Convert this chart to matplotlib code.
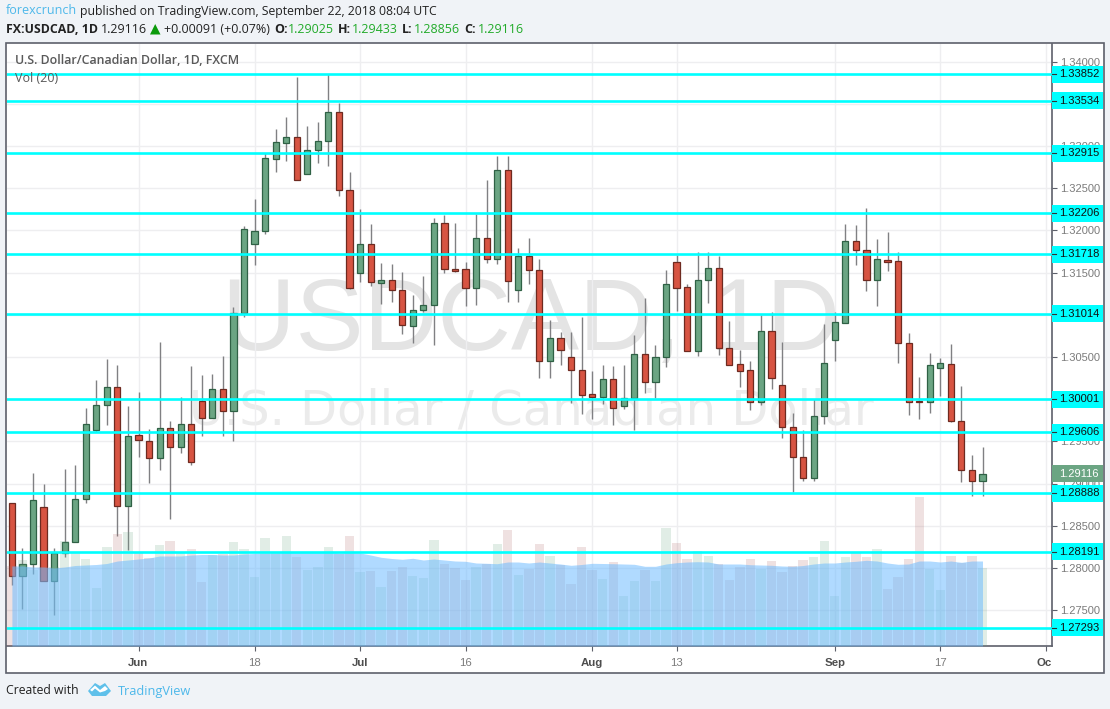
import matplotlib
matplotlib.use("Agg")
import matplotlib.pyplot as plt
import numpy as np
from matplotlib.patches import Rectangle, Polygon
from matplotlib.transforms import blended_transform_factory, Bbox

W, H = 1110, 709

opens = [1.28774,1.27905,1.28051,1.28726,1.27846,1.28178,1.28312,1.28818,1.29639,1.29935,1.30148,1.28738,
 1.29572,1.29508,1.29303,1.29662,1.29437,1.2971,1.29982,1.29781,1.30124,1.29864,1.31025,1.31835,1.31989,1.3285,1.33039,1.33103,
 1.32665,1.32956,1.33056,1.33399,1.32475,1.31499,1.31835,1.3138,1.31409,1.31297,1.30871,1.3106,1.31113,1.32084,1.31539,1.31539,
 1.31321,1.31906,1.31665,1.32712,1.31297,1.31693,1.31534,1.30456,1.30722,1.30504,1.3035,1.30058,1.3003,1.30236,1.29919,1.30018,
 1.30532,1.30207,1.30504,1.31622,1.31326,1.30575,1.31409,1.31551,1.30603,1.30413,1.30342,1.2997,1.30804,1.30172,1.29674,1.29319,
 1.29066,1.29805,1.30701,1.30903,1.31871,1.31771,1.31409,1.31646,1.31634,1.30669,1.29975,1.2997,1.3037,1.30421,1.29745,1.29165,1.29025]
closes = [1.27909,1.28047,1.28809,1.27846,1.28181,1.28312,1.28821,1.29703,1.29935,1.30148,1.28738,1.29568,
 1.29517,1.29303,1.29662,1.29437,1.2971,1.29259,1.29781,1.30124,1.29864,1.31025,1.32013,1.31993,1.32854,1.33044,1.33103,1.32594,
 1.32956,1.33056,1.33399,1.32475,1.31321,1.31835,1.31385,1.31409,1.31297,1.30883,1.3106,1.31113,1.32084,1.31539,1.31519,1.31321,
 1.31906,1.31665,1.32712,1.31404,1.31693,1.31534,1.30456,1.30722,1.30586,1.3035,1.30053,1.3003,1.30236,1.29899,1.30018,1.30532,
 1.30207,1.30504,1.31361,1.31321,1.30575,1.31409,1.31551,1.3061,1.30409,1.30334,1.2997,1.30804,1.30251,1.29674,1.29315,1.29066,
 1.29805,1.30425,1.30911,1.31871,1.31771,1.31409,1.31658,1.31629,1.30669,1.2997,1.29963,1.30402,1.30425,1.29745,1.29165,1.29034,1.29116]
highs = [1.28774,1.28237,1.29126,1.29,1.28237,1.29173,1.2922,1.29896,1.30227,1.30476,1.30405,1.29919,
 1.30085,1.29647,1.30678,1.29742,1.30026,1.30393,1.30287,1.30299,1.30515,1.31092,1.32052,1.32372,1.32917,1.33201,1.33344,1.33821,
 1.33237,1.33284,1.33853,1.3351,1.32692,1.32254,1.32076,1.31614,1.31602,1.31507,1.31235,1.3146,1.32147,1.32182,1.32088,1.31626,
 1.32194,1.32597,1.32885,1.32885,1.31791,1.3191,1.31661,1.30938,1.30796,1.30796,1.30974,1.30334,1.30405,1.30393,1.30405,1.30761,
 1.31199,1.30642,1.31531,1.31709,1.31365,1.31744,1.31744,1.31697,1.30927,1.30583,1.30453,1.30998,1.31033,1.30678,1.29836,1.29635,
 1.30002,1.30891,1.31033,1.32076,1.32064,1.32265,1.31898,1.31981,1.31744,1.30784,1.30263,1.30547,1.30488,1.30654,1.30156,1.29339,1.29433]
lows = [1.27799,1.27514,1.27929,1.27846,1.27443,1.28134,1.28312,1.2877,1.29615,1.29694,1.28383,1.28213,
 1.29315,1.29007,1.29161,1.28581,1.29363,1.2922,1.29564,1.29781,1.29564,1.29508,1.30978,1.3159,1.31957,1.32695,1.32826,1.32594,
 1.32665,1.32802,1.32767,1.32408,1.31306,1.31392,1.31341,1.31128,1.31152,1.30773,1.30666,1.31033,1.30642,1.31495,1.31507,1.31104,
 1.31116,1.31614,1.31602,1.31152,1.31152,1.31365,1.30251,1.30251,1.30405,1.29955,1.29825,1.29765,1.29943,1.29694,1.29884,1.29635,
 1.30073,1.30014,1.30382,1.31045,1.30575,1.30512,1.3114,1.30524,1.30409,1.30145,1.29872,1.29931,1.30121,1.2954,1.28904,1.29034,
 1.29034,1.29706,1.30453,1.30903,1.3159,1.31282,1.31104,1.31519,1.30429,1.29813,1.29765,1.29836,1.30038,1.2973,1.29019,1.28853,1.28856]
volumes = [80,86,76,79,79,105,94,87,58,99,112,114,
 93,88,101,105,93,97,64,91,92,104,97,69,108,93,110,89,76,79,99,92,110,74,75,
 59,75,79,70,68,106,82,78,66,79,82,102,116,71,77,102,90,81,62,99,76,67,84,50,65,76,65,118,103,87,95,90,82,66,79,
 87,77,85,74,80,86,89,105,50,89,94,89,97,57,69,87,149,77,56,90,83,90,78]
vol_ma = [80,80,79,79,78,79,80.5,81,81.5,82.5,85,86,
 87,88,90,90,90,91,91.5,91.5,91,91,92,92.5,93,93,93.5,93.5,94,94,94.5,93,93.5,93,91,
 88.7,87.5,86.7,87.7,86,87,86,85,84.7,83,82.7,82.3,84,84,83,84,83,82,80.7,81.5,82.7,82.5,82.3,82,81.7,79.7,79.7,82,83.3,84,84.3,84,82,82,82,
 81.3,81,80.7,80,79.7,80.5,82,83,83,84,84.7,85.7,85,83,81.7,82,85,85,84,85,83.7,85,85]
first_index = -12

levels = [1.33852,1.33534,1.32915,1.32206,1.31718,1.31014,1.30001,1.29606,1.28888,1.28191,1.27293]
price_ticks = [1.34,1.335,1.33,1.325,1.32,1.315,1.31,1.305,1.30,1.295,1.29,1.285,1.28,1.275]
covered_ticks = [1.335,1.31,1.30]
date_pos = [0,11,21,31,43,51,66,76,86]
date_labels = ["Jun","18","Jul","16","Aug","13","Sep","17","Oct"]
date_bold = [True,False,True,False,True,False,True,False,True]
last_price = 1.29116

UP, DOWN, UP_E, DOWN_E, WICK = "#6ba583","#d75442","#2f6145","#6e2a20","#808083"
CYAN = "#00ffff"
GREY = "#7b7b7b"
BG = "#f0f3f7"
BORDER = "#5d606b"

plt.rcParams['font.family'] = ['Open Sans','DejaVu Sans']
fig = plt.figure(figsize=(W/100, H/100), dpi=100, facecolor=BG)

def fx(x): return x/W
def fy(y): return 1-y/H

fig.add_artist(Rectangle((fx(5.5), fy(672.5)), 1098/W, 629.5/H, transform=fig.transFigure,
                         fc="white", ec=BORDER, lw=1.2, zorder=-5))

L,R,T,B = 7,1052,43.5,646
pos = [fx(L), fy(B), (R-L)/W, (B-T)/H]
xlim = ((L-138.5)/10.55, (R-138.5)/10.55)
ylim = (1.28-(B-568)/8440, 1.28+(568-T)/8440)

ax = fig.add_axes(pos, zorder=1)
ax.set_facecolor("none")
ax.set_xlim(xlim); ax.set_ylim(ylim)
ax.set_axisbelow(True)
ax.grid(True, color="#eeeef0", lw=1.0)
for s in ("top","left"): ax.spines[s].set_visible(False)
for s in ("right","bottom"):
    ax.spines[s].set_color(BORDER); ax.spines[s].set_linewidth(1.2)

ax.yaxis.tick_right()
ax.set_yticks(price_ticks)
ax.set_yticklabels(["" if p in covered_ticks else "%.5f"%p for p in price_ticks],
                   family="Liberation Sans", fontsize=8, color=GREY)
ax.tick_params(axis="y", length=3.5, width=0.8, color=BORDER, pad=2)
ax.set_xticks(date_pos)
ax.set_xticklabels(date_labels, family="Liberation Sans", fontsize=8.2, color=GREY)
ax.tick_params(axis="x", length=3.5, width=0.8, color=BORDER, pad=5)
clip = Bbox([[0,0],[R-1,H]])
for lab,b in zip(ax.get_xticklabels(), date_bold):
    if b:
        lab.set_color("#4e4e4e"); lab.set_fontweight("bold")
    lab.set_clip_box(clip); lab.set_clip_on(True)

n = len(opens)
idx = np.arange(first_index, first_index+n)
op, cl, hi, lo = map(np.array,(opens,closes,highs,lows))
up = cl >= op

# watermark
fig.text(fx(531),fy(324),"USDCAD, 1D",family="Liberation Sans",fontsize=102*0.72,color="#e4e4e4",
         ha="center",va="center",zorder=0)
fig.text(fx(531),fy(411),"U.S. Dollar / Canadian Dollar",family="DejaVu Sans",fontsize=48*0.72,color="#ebebeb",
         ha="center",va="center",zorder=0)

ax.vlines(idx, lo, hi, color=WICK, lw=1.0, zorder=3)
ax.bar(idx, np.maximum(np.abs(cl-op),0.00002), bottom=np.minimum(op,cl), width=0.58,
       color=[UP if u else DOWN for u in up], edgecolor=[UP_E if u else DOWN_E for u in up],
       linewidth=0.9, zorder=4)

# volume pane
axv = fig.add_axes(pos, zorder=2)
axv.set_facecolor("none"); axv.axis("off")
axv.set_xlim(xlim); axv.set_ylim(0, B-T)
axv.bar(idx, volumes, width=0.89, color=["#6ba583" if u else "#b06a6a" for u in up], alpha=0.2, linewidth=0)
axv.fill_between(idx, 0, vol_ma, color="#6fbcff", alpha=0.55, linewidth=0)

# levels
axl = fig.add_axes(pos, zorder=3)
axl.set_facecolor("none"); axl.axis("off")
axl.set_xlim(xlim); axl.set_ylim(ylim)
bt = blended_transform_factory(axl.transAxes, axl.transData)
bw = 51/(R-L)
bh = 17/8440
axl.add_patch(Rectangle((1, last_price-bh/2), bw, bh, transform=bt, fc=UP, ec="none", clip_on=False, zorder=5))
axl.text(1+7/(R-L), last_price, "%.5f"%last_price, transform=bt, family="Liberation Sans", fontsize=8,
         color="white", va="center", ha="left", clip_on=False, zorder=6)
for lv in levels:
    axl.axhline(lv, color=CYAN, lw=1.9, zorder=4)
    axl.add_patch(Rectangle((1, lv-bh/2), bw, bh, transform=bt, fc=CYAN, ec="none", clip_on=False, zorder=7))
    axl.plot([1, 1+4/(R-L)], [lv,lv], transform=bt, color="#333333", lw=0.8, clip_on=False, zorder=8)
    axl.text(1+7/(R-L), lv, "%.5f"%lv, transform=bt, family="Liberation Sans", fontsize=8,
             color="#111111", va="center", ha="left", clip_on=False, zorder=8)

# pane legends
fig.text(fx(15),fy(60.5),"U.S. Dollar/Canadian Dollar, 1D, FXCM",fontsize=8.95,color="#595959",fontweight="semibold",va="center",zorder=5)
fig.text(fx(15),fy(78),"Vol (20)",fontsize=9.0,color="#595959",va="center",zorder=5)

# header
BLUE = "#4db8ea"
DARK = "#222222"
GRN = "#22ab2a"
def t(x,y,s,c=DARK,w="normal",fs=9.0,**k):
    fig.text(fx(x),fy(y),s,color=c,fontweight=w,fontsize=fs,va="center",zorder=6,**k)
t(6,11,"forexcrunch",BLUE,fs=9.0)
t(80,11,"published on TradingView.com, September 22, 2018 08:04 UTC",fs=8.8)
t(6,29.5,"FX:USDCAD, 1D",w="bold",fs=8.9)
t(101,29.5,"1.29116")
fig.add_artist(Polygon([[fx(150),fy(34.5)],[fx(160.5),fy(34.5)],[fx(155.2),fy(24)]],closed=True,fc="#0b9a0b",ec="none",transform=fig.transFigure,zorder=6))
t(164,29.5,"+0.00091 (+0.07%)")
for xl,lab,xv,val in [(274,"O:",288,"1.29025"),(338,"H:",352,"1.29433"),(402,"L:",414,"1.28856"),(464,"C:",478,"1.29116")]:
    t(xl,29.5,lab,w="bold")
    t(xv,29.5,val,GRN)

# footer
t(6,691,"Created with",fs=8.8)
t(118,691,"TradingView",BLUE,fs=9.2)
logo = [[88,691],[95,683],[100,686],[105,683],[111,691],[106,696],[92,696]]
fig.add_artist(Polygon([[fx(a),fy(b)] for a,b in logo],closed=True,fc="#5fc0ea",ec="none",transform=fig.transFigure,zorder=6))
fig.add_artist(Polygon([[fx(a),fy(b)] for a,b in [[90,690],[95,685.5],[100,690],[105,686],[108,689],[105,691],[100,692.5],[95,688.5],[92,691.5]]],closed=True,fc="white",ec="none",transform=fig.transFigure,zorder=7))

fig.savefig("out.png", dpi=100, facecolor=BG)
